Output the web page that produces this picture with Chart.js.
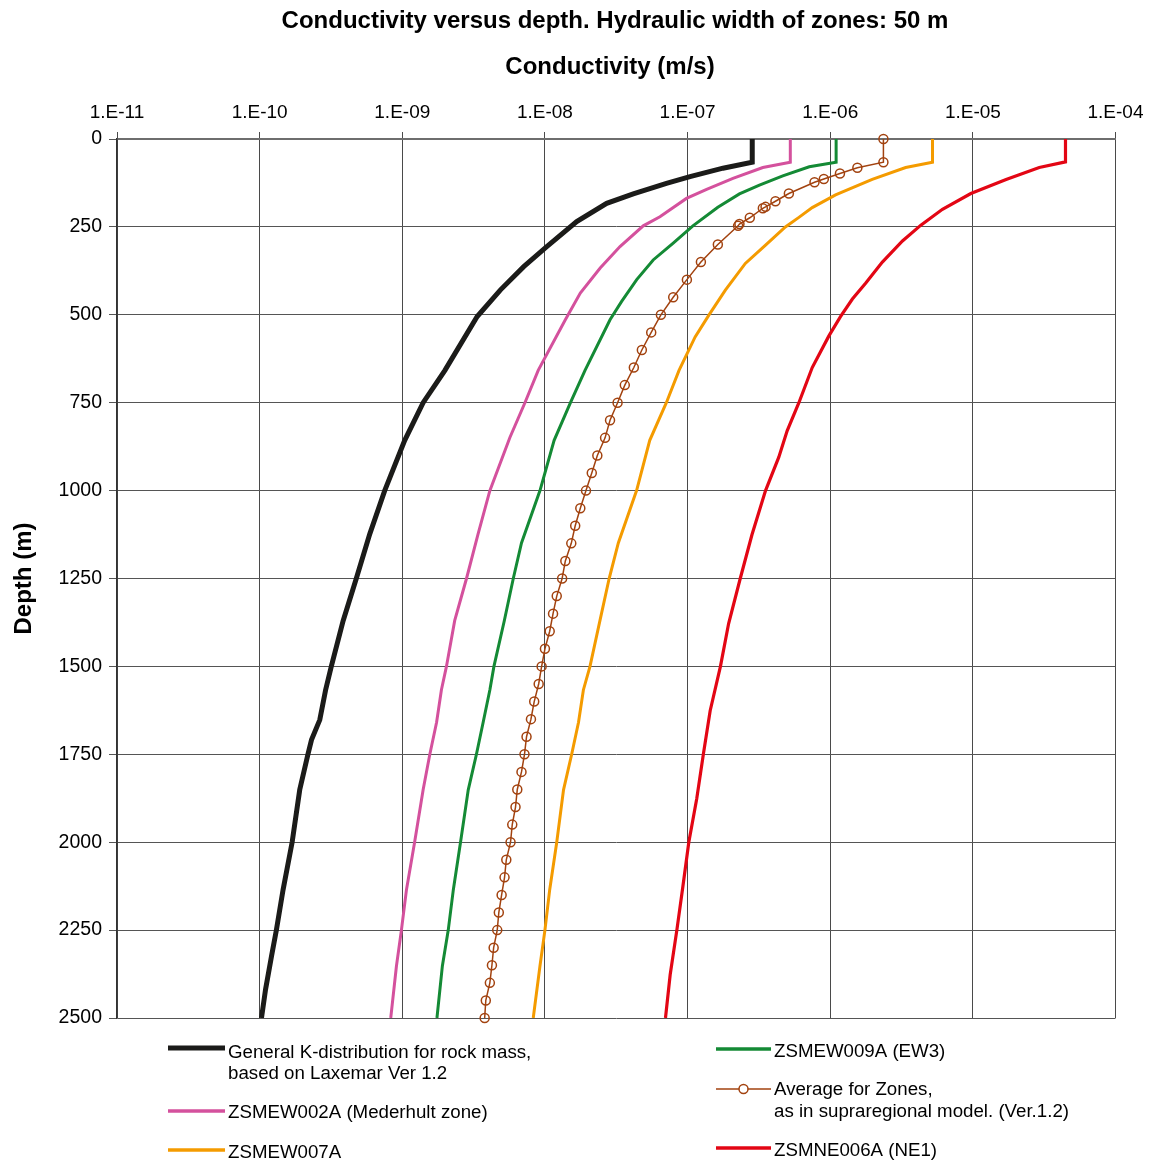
<!DOCTYPE html>
<html>
<head>
<meta charset="utf-8">
<title>Conductivity versus depth</title>
<script src="https://cdn.jsdelivr.net/npm/chart.js@4.4.1/dist/chart.umd.min.js"></script>
<style>
  html, body { margin: 0; padding: 0; background: #ffffff; }
  canvas { display: block; }
</style>
</head>
<body>
<canvas id="chart" width="1151" height="1160"></canvas>
<script>
// Axis ticks
const kTicks = [1e-11, 1e-10, 1e-9, 1e-8, 1e-7, 1e-6, 1e-5, 1e-4];
const kTickLabels = ['1.E-11', '1.E-10', '1.E-09', '1.E-08', '1.E-07', '1.E-06', '1.E-05', '1.E-04'];
const depthTicks = [0, 250, 500, 750, 1000, 1250, 1500, 1750, 2000, 2250, 2500];

// General K-distribution for rock mass (Laxemar Ver 1.2): depth (m) and K (m/s)
const generalDepth = [0, 66, 83, 107, 126, 156, 183, 235, 306, 363, 429, 505, 658, 750, 857, 1000, 1123, 1250, 1370, 1500, 1567, 1652, 1709, 1750, 1851, 2000, 2135, 2250, 2325, 2419, 2500];
const generalK = [2.84e-7, 2.84e-7, 1.77e-7, 1.04e-7, 7.11e-8, 4.16e-8, 2.71e-8, 1.67e-8, 1.03e-8, 7.10e-9, 4.88e-9, 3.35e-9, 1.99e-9, 1.40e-9, 1.04e-9, 7.53e-10, 5.92e-10, 4.76e-10, 3.85e-10, 3.18e-10, 2.90e-10, 2.64e-10, 2.31e-10, 2.18e-10, 1.91e-10, 1.69e-10, 1.46e-10, 1.31e-10, 1.21e-10, 1.10e-10, 1.03e-10];

// ZSMEW002A (Mederhult zone)
const ew002Depth = [0, 66, 81, 112, 143, 169, 221, 247, 306, 367, 438, 514, 658, 750, 849, 1000, 1123, 1250, 1370, 1500, 1567, 1659, 1750, 1851, 2000, 2135, 2250, 2352, 2500];
const ew002K = [5.25e-7, 5.25e-7, 3.37e-7, 2.08e-7, 1.36e-7, 9.82e-8, 6.40e-8, 4.89e-8, 3.36e-8, 2.44e-8, 1.77e-8, 1.39e-8, 8.97e-9, 7.24e-9, 5.68e-9, 4.11e-9, 3.40e-9, 2.82e-9, 2.33e-9, 2.04e-9, 1.88e-9, 1.74e-9, 1.56e-9, 1.40e-9, 1.22e-9, 1.07e-9, 9.86e-10, 9.10e-10, 8.30e-10];

// ZSMEW007A
const ew007Depth = [0, 66, 81, 115, 159, 195, 223, 250, 302, 354, 430, 501, 563, 658, 750, 857, 1000, 1149, 1250, 1370, 1500, 1567, 1659, 1750, 1851, 2000, 2135, 2250, 2352, 2500];
const ew007K = [5.21e-6, 5.21e-6, 3.38e-6, 1.97e-6, 1.09e-6, 7.48e-7, 6.03e-7, 4.85e-7, 3.52e-7, 2.54e-7, 1.84e-7, 1.41e-7, 1.13e-7, 8.71e-8, 7.10e-8, 5.43e-8, 4.39e-8, 3.27e-8, 2.82e-8, 2.43e-8, 2.07e-8, 1.86e-8, 1.72e-8, 1.54e-8, 1.35e-8, 1.21e-8, 1.08e-8, 1.00e-8, 9.23e-9, 8.28e-9];

// ZSMEW009A (EW3)
const ew009Depth = [0, 66, 79, 105, 131, 156, 194, 247, 296, 344, 400, 462, 514, 658, 750, 857, 1000, 1149, 1250, 1370, 1500, 1567, 1659, 1750, 1851, 2000, 2135, 2250, 2352, 2500];
const ew009K = [1.10e-6, 1.10e-6, 7.13e-7, 4.65e-7, 3.19e-7, 2.31e-7, 1.63e-7, 1.09e-7, 7.93e-8, 5.74e-8, 4.40e-8, 3.45e-8, 2.86e-8, 1.91e-8, 1.51e-8, 1.16e-8, 9.23e-9, 6.85e-9, 6.00e-9, 5.19e-9, 4.39e-9, 4.11e-9, 3.69e-9, 3.31e-9, 2.90e-9, 2.56e-9, 2.28e-9, 2.10e-9, 1.91e-9, 1.75e-9];

// Average for zones, supraregional model (Ver.1.2)
const avgDepth = [0, 66, 82, 98, 114, 123, 155, 177, 193, 197, 224, 242, 247, 300, 350, 400, 450, 500, 550, 600, 650, 700, 750, 800, 850, 900, 950, 1000, 1050, 1100, 1150, 1200, 1250, 1300, 1350, 1400, 1450, 1500, 1550, 1600, 1650, 1700, 1750, 1800, 1850, 1900, 1950, 2000, 2050, 2100, 2150, 2200, 2250, 2300, 2350, 2400, 2450, 2500];
const avgK = [2.36e-6, 2.36e-6, 1.55e-6, 1.17e-6, 9.02e-7, 7.76e-7, 5.13e-7, 4.13e-7, 3.52e-7, 3.37e-7, 2.73e-7, 2.31e-7, 2.26e-7, 1.63e-7, 1.24e-7, 9.89e-8, 7.93e-8, 6.50e-8, 5.56e-8, 4.78e-8, 4.20e-8, 3.63e-8, 3.23e-8, 2.86e-8, 2.64e-8, 2.33e-8, 2.13e-8, 1.94e-8, 1.77e-8, 1.63e-8, 1.53e-8, 1.39e-8, 1.32e-8, 1.21e-8, 1.14e-8, 1.08e-8, 1.00e-8, 9.48e-9, 9.04e-9, 8.41e-9, 7.98e-9, 7.43e-9, 7.19e-9, 6.85e-9, 6.40e-9, 6.22e-9, 5.90e-9, 5.74e-9, 5.36e-9, 5.21e-9, 4.97e-9, 4.75e-9, 4.63e-9, 4.37e-9, 4.25e-9, 4.11e-9, 3.85e-9, 3.78e-9];

// ZSMNE006A (NE1)
const ne006Depth = [0, 65, 81, 115, 155, 200, 245, 290, 350, 410, 455, 505, 560, 650, 750, 830, 905, 1000, 1125, 1250, 1378, 1500, 1626, 1750, 1876, 2000, 2126, 2250, 2377, 2500];
const ne006K = [4.46e-5, 4.46e-5, 2.92e-5, 1.71e-5, 9.68e-6, 6.12e-6, 4.32e-6, 3.21e-6, 2.32e-6, 1.77e-6, 1.43e-6, 1.18e-6, 9.79e-7, 7.48e-7, 6.03e-7, 4.99e-7, 4.36e-7, 3.52e-7, 2.83e-7, 2.34e-7, 1.94e-7, 1.70e-7, 1.44e-7, 1.29e-7, 1.16e-7, 1.02e-7, 9.27e-8, 8.41e-8, 7.55e-8, 7.00e-8];

const seriesNames = [
  'General K-distribution for rock mass,\nbased on Laxemar Ver 1.2',
  'ZSMEW002A (Mederhult zone)',
  'ZSMEW007A',
  'ZSMEW009A (EW3)',
  'Average for Zones,\nas in supraregional model. (Ver.1.2)',
  'ZSMNE006A (NE1)'
];

const FONT = "'Liberation Sans', Arial, Helvetica, sans-serif";

function toPoints(depths, ks) {
  return depths.map((d, i) => ({ x: ks[i], y: d }));
}

const COLORS = {
  general: '#1b1b19',
  ew002: '#d4519d',
  ew007: '#f49b00',
  ew009: '#148a35',
  avg: '#a2420f',
  ne006: '#e30614'
};

const datasets = [
  { label: seriesNames[0], data: toPoints(generalDepth, generalK), borderColor: COLORS.general, borderWidth: 5, pointRadius: 0 },
  { label: seriesNames[1], data: toPoints(ew002Depth, ew002K), borderColor: COLORS.ew002, borderWidth: 3, pointRadius: 0 },
  { label: seriesNames[2], data: toPoints(ew007Depth, ew007K), borderColor: COLORS.ew007, borderWidth: 3, pointRadius: 0 },
  { label: seriesNames[3], data: toPoints(ew009Depth, ew009K), borderColor: COLORS.ew009, borderWidth: 3, pointRadius: 0 },
  { label: seriesNames[4], data: toPoints(avgDepth, avgK), borderColor: COLORS.avg, borderWidth: 1.5,
    pointRadius: 4.5, pointBorderWidth: 1.5, pointBorderColor: COLORS.avg, pointBackgroundColor: 'rgba(255,255,255,0)', clip: false },
  { label: seriesNames[5], data: toPoints(ne006Depth, ne006K), borderColor: COLORS.ne006, borderWidth: 3.2, pointRadius: 0 }
].map(ds => Object.assign({ showLine: true, tension: 0, fill: false, borderJoinStyle: 'miter' }, ds));

// Legend placement (two columns under the plot)
const legendLayout = [
  { lineX: 168, lineX2: 225, lineY: 1048, textX: 228, baselines: [1058, 1079], width: 5 },
  { lineX: 168, lineX2: 225, lineY: 1111, textX: 228, baselines: [1118], width: 3.5 },
  { lineX: 168, lineX2: 225, lineY: 1150, textX: 228, baselines: [1158], width: 3.5 },
  { lineX: 716, lineX2: 771, lineY: 1049, textX: 774, baselines: [1057], width: 3.5 },
  { lineX: 716, lineX2: 771, lineY: 1089, textX: 774, baselines: [1095, 1117], width: 1.5, marker: true },
  { lineX: 716, lineX2: 771, lineY: 1148, textX: 774, baselines: [1156], width: 3.5 }
];

const headingPlugin = {
  id: 'headingAndLegend',
  afterDraw(chart) {
    const ctx = chart.ctx;
    ctx.save();
    ctx.fillStyle = '#000';
    ctx.textAlign = 'center';
    ctx.textBaseline = 'middle';
    ctx.font = 'bold 24px ' + FONT;
    ctx.fillText('Conductivity versus depth. Hydraulic width of zones: 50 m', 615, 21);
    ctx.fillText('Conductivity (m/s)', 610, 67);

    ctx.textAlign = 'left';
    ctx.textBaseline = 'alphabetic';
    ctx.font = '18.7px ' + FONT;
    chart.data.datasets.forEach((ds, i) => {
      const L = legendLayout[i];
      ctx.strokeStyle = ds.borderColor;
      ctx.lineWidth = L.width;
      ctx.lineCap = 'butt';
      ctx.beginPath();
      ctx.moveTo(L.lineX, L.lineY);
      ctx.lineTo(L.lineX2, L.lineY);
      ctx.stroke();
      if (L.marker) {
        ctx.lineWidth = 1.5;
        ctx.beginPath();
        ctx.arc((L.lineX + L.lineX2) / 2, L.lineY, 4.5, 0, Math.PI * 2);
        ctx.fillStyle = '#fff';
        ctx.fill();
        ctx.stroke();
      }
      ctx.fillStyle = '#000';
      ds.label.split('\n').forEach((line, j) => {
        ctx.fillText(line, L.textX, L.baselines[j]);
      });
    });
    ctx.restore();
  }
};

new Chart(document.getElementById('chart'), {
  type: 'scatter',
  data: { datasets },
  plugins: [headingPlugin],
  options: {
    responsive: false,
    animation: false,
    devicePixelRatio: 1,
    layout: { padding: { left: 0, right: 35, top: 0, bottom: 142 } },
    plugins: {
      legend: { display: false },
      title: { display: false },
      tooltip: { enabled: false }
    },
    scales: {
      x: {
        type: 'logarithmic',
        position: 'top',
        min: kTicks[0],
        max: kTicks[kTicks.length - 1],
        afterBuildTicks: (scale) => {
          scale.ticks = kTicks.map(v => ({ value: v, major: true }));
        },
        afterFit: (scale) => { scale.height = 139; },
        ticks: {
          autoSkip: false,
          maxRotation: 0,
          padding: 7.5,
          color: '#000',
          font: { family: FONT, size: 19 },
          callback: (value) => {
            const idx = kTicks.findIndex(t => Math.abs(Math.log10(t) - Math.log10(value)) < 1e-6);
            return idx >= 0 ? kTickLabels[idx] : '';
          }
        },
        grid: { color: '#4a4a4a', lineWidth: 1, tickLength: 7, drawTicks: true },
        border: { display: true, color: '#6e6e6e', width: 2 },
        title: { display: false }
      },
      y: {
        type: 'linear',
        position: 'left',
        reverse: true,
        min: depthTicks[0],
        max: depthTicks[depthTicks.length - 1],
        afterBuildTicks: (scale) => {
          scale.ticks = depthTicks.map(v => ({ value: v }));
        },
        afterFit: (scale) => { scale.width = 117; },
        ticks: {
          autoSkip: false,
          padding: 7,
          color: '#000',
          font: { family: FONT, size: 19.5 },
          callback: (value) => String(value)
        },
        grid: { color: '#555555', lineWidth: 1, tickLength: 8, drawTicks: true },
        border: { display: true, color: '#333333', width: 1.5 },
        title: {
          display: true,
          text: 'Depth (m)',
          color: '#000',
          font: { family: FONT, size: 24, weight: 'bold' },
          padding: { top: 10, bottom: 0 }
        }
      }
    }
  }
});
</script>
</body>
</html>
